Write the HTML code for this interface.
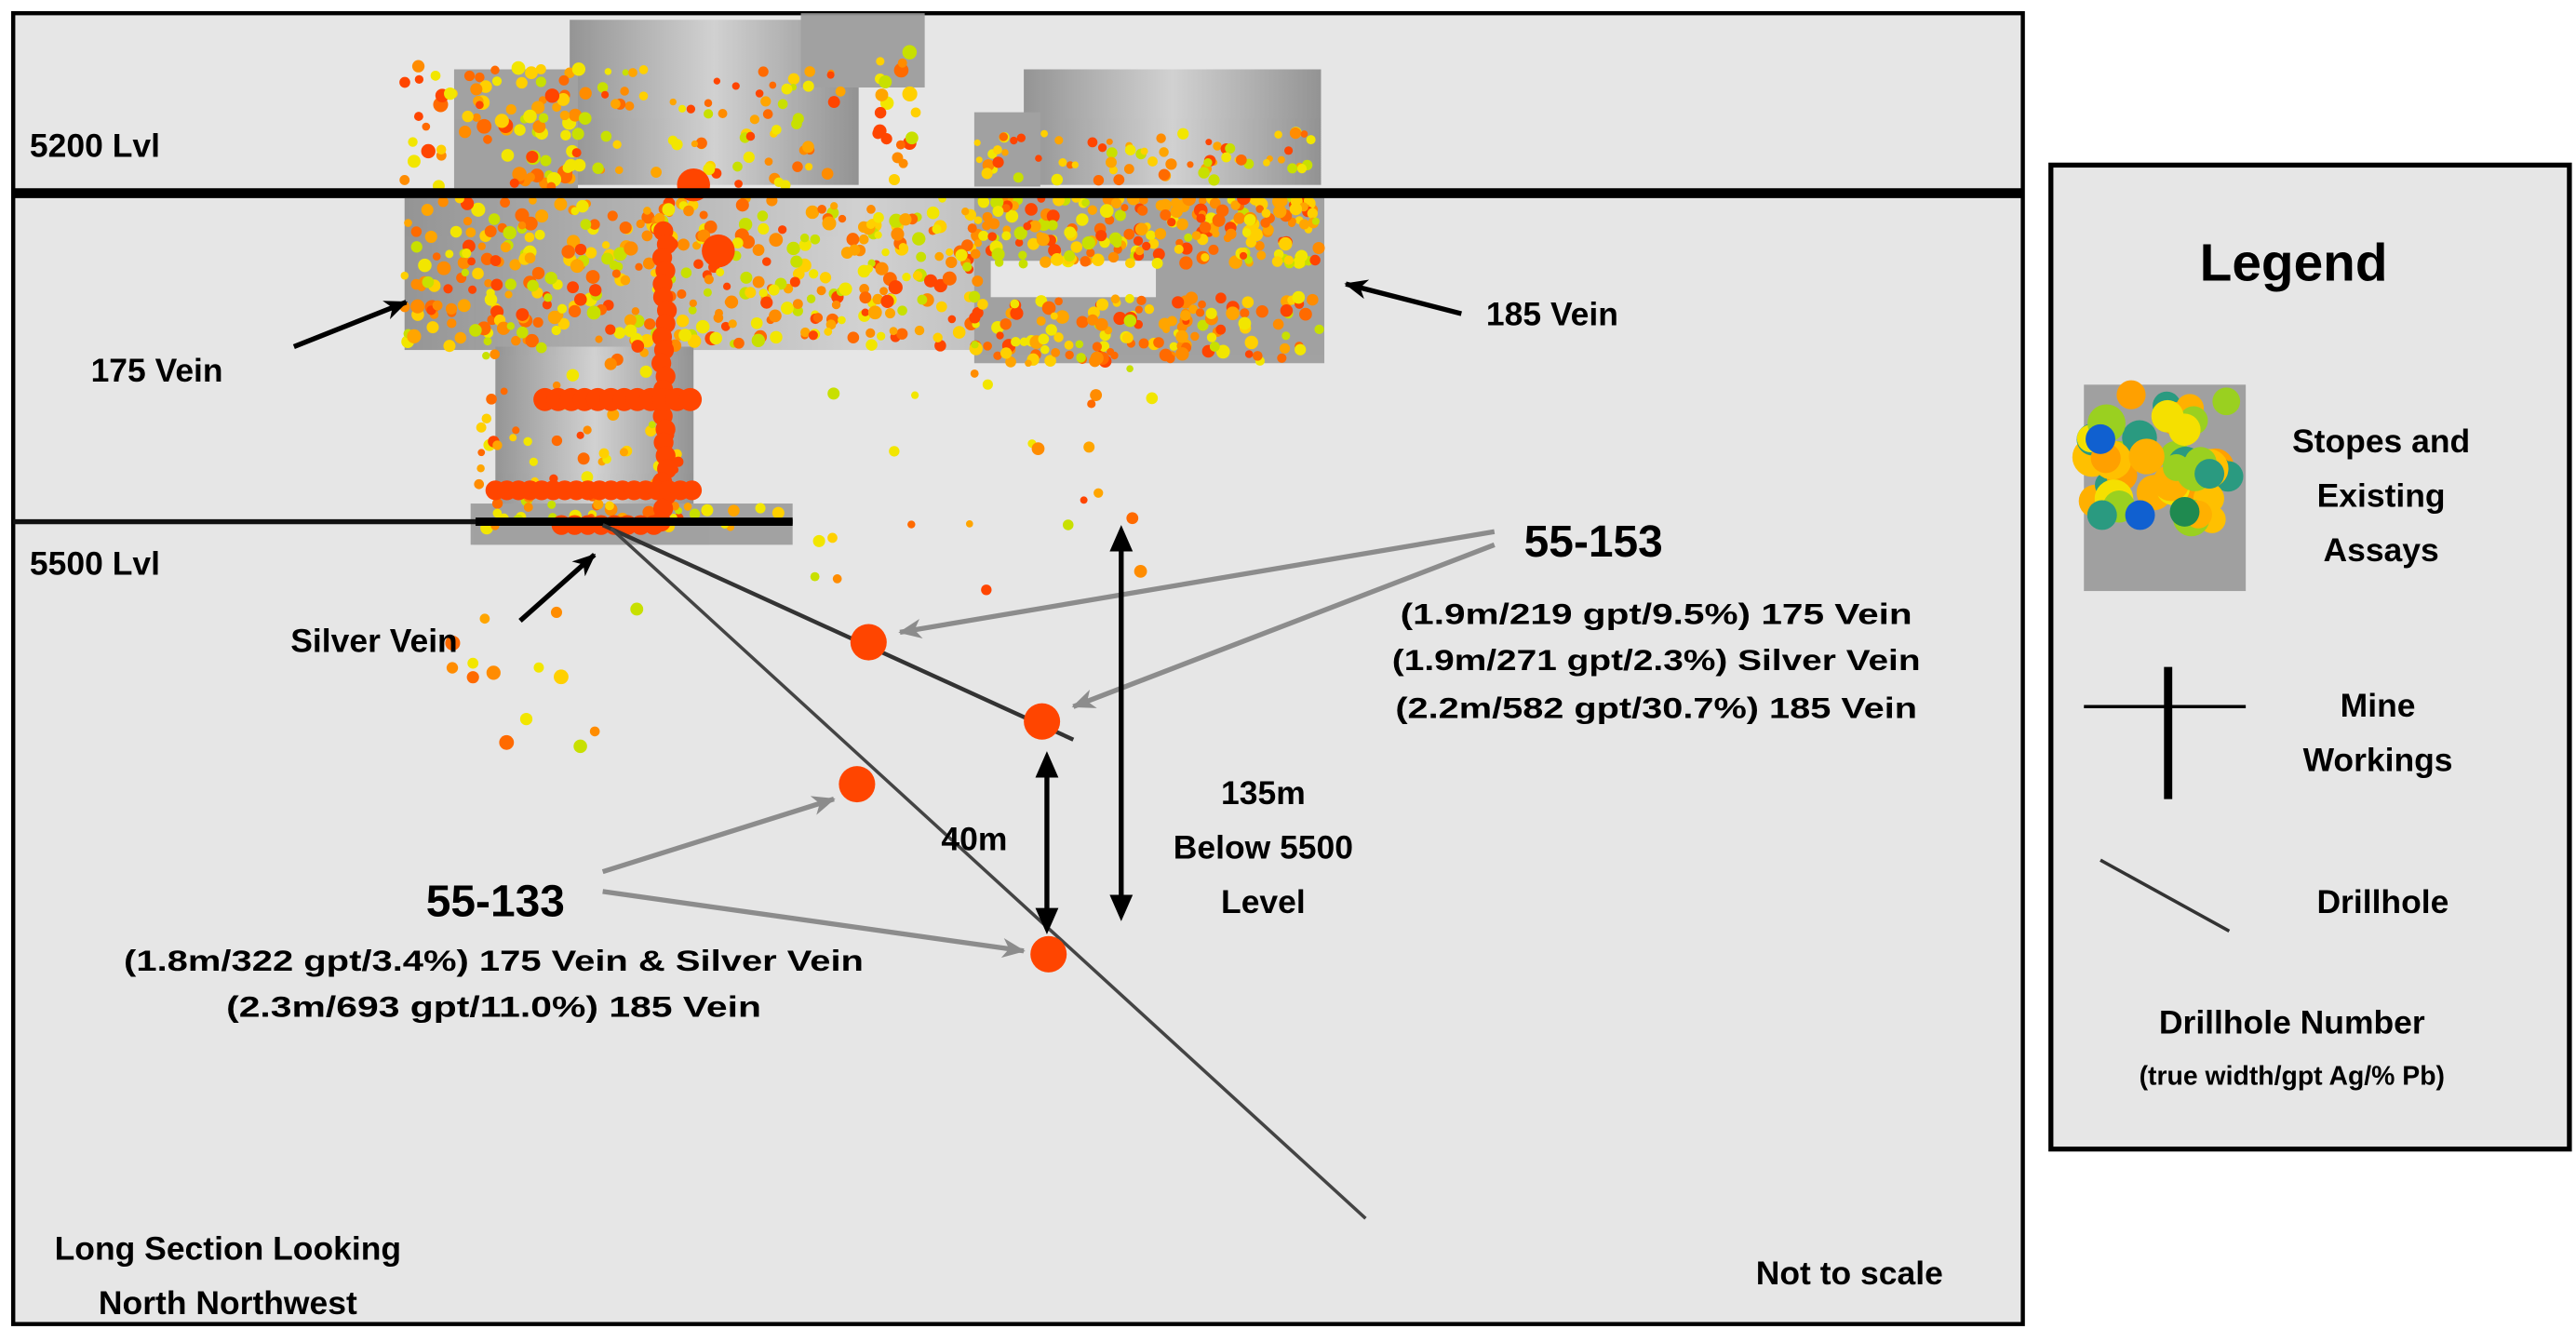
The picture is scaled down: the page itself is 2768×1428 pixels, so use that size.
<!DOCTYPE html>
<html><head><meta charset="utf-8"><style>
html,body{margin:0;padding:0;background:#fff;}
svg{display:block;}
text{font-family:"Liberation Sans",sans-serif;font-weight:bold;fill:#000;}
</style></head><body>
<svg id="s" width="2768" height="1428" viewBox="0 0 1560 805" preserveAspectRatio="none" xmlns="http://www.w3.org/2000/svg">
<defs>
<linearGradient id="g1" x1="0" x2="1"><stop offset="0" stop-color="#8c8c8c"/><stop offset="0.5" stop-color="#cfcfcf"/><stop offset="1" stop-color="#8a8a8a"/></linearGradient>
<marker id="ab" markerWidth="8" markerHeight="8" refX="7" refY="4" orient="auto" markerUnits="userSpaceOnUse"><path d="M0,0 L8,4 L0,8 L2,4z" fill="#000"/></marker>
<marker id="ag" markerWidth="14" markerHeight="12" refX="13" refY="6" orient="auto" markerUnits="userSpaceOnUse"><path d="M0,0 L14,6 L0,12 L4,6z" fill="#8c8c8c"/></marker>
<marker id="ak" markerWidth="14" markerHeight="12" refX="13" refY="6" orient="auto" markerUnits="userSpaceOnUse"><path d="M0,0 L14,6 L0,12 L4,6z" fill="#000"/></marker>
</defs>
<rect x="0" y="0" width="1560" height="805" fill="#fff"/>
<rect x="8" y="8" width="1217" height="794" fill="#e6e6e6" stroke="#000" stroke-width="2.5"/>
<!-- stopes gray -->
<g fill="#9a9a9a" opacity="0.9">
<rect x="345" y="12" width="175" height="100" fill="url(#g1)"/>
<rect x="485" y="8" width="75" height="45"/>
<rect x="275" y="42" width="75" height="72"/>
<rect x="620" y="42" width="180" height="70" fill="url(#g1)"/>
<rect x="590" y="68" width="40" height="45"/>
<rect x="245" y="120" width="555" height="92" fill="url(#g1)"/>
<rect x="590" y="120" width="212" height="100"/>
<rect x="300" y="210" width="120" height="100" fill="url(#g1)"/>
<rect x="285" y="305" width="195" height="25"/>
</g>
<rect x="600" y="158" width="100" height="22" fill="#e6e6e6"/>
<g id="dots"></g>
<!-- levels -->
<line x1="8" y1="117" x2="1225" y2="117" stroke="#000" stroke-width="6"/>
<line x1="8" y1="316" x2="480" y2="316" stroke="#111" stroke-width="3"/>
<line x1="288" y1="316" x2="480" y2="316" stroke="#000" stroke-width="5"/>
<!-- drillholes -->
<line x1="365" y1="318" x2="650" y2="448" stroke="#333" stroke-width="2.5"/>
<line x1="370" y1="320" x2="827" y2="738" stroke="#444" stroke-width="2"/>
<g fill="#ff4500">
<circle cx="526" cy="389" r="11"/><circle cx="631" cy="437" r="11"/>
<circle cx="519" cy="475" r="11"/><circle cx="635" cy="578" r="11"/>
</g>
<!-- gray leaders -->
<g stroke="#8c8c8c" stroke-width="3" fill="none">
<line x1="905" y1="322" x2="545" y2="383" marker-end="url(#ag)"/>
<line x1="905" y1="330" x2="650" y2="428" marker-end="url(#ag)"/>
<line x1="365" y1="528" x2="505" y2="484" marker-end="url(#ag)"/>
<line x1="365" y1="540" x2="620" y2="576" marker-end="url(#ag)"/>
</g>
<!-- black arrows -->
<g stroke="#000" stroke-width="3">
<line x1="679" y1="330" x2="679" y2="545"/>
<line x1="634" y1="468" x2="634" y2="553"/>
<line x1="178" y1="210" x2="246" y2="183" marker-end="url(#ak)"/>
<line x1="885" y1="190" x2="815" y2="172" marker-end="url(#ak)"/>
<line x1="315" y1="376" x2="360" y2="336" marker-end="url(#ak)"/>
</g>
<g fill="#000">
<path d="M679,318 L672,334 L686,334z"/><path d="M679,558 L672,542 L686,542z"/>
<path d="M634,455 L627,471 L641,471z"/><path d="M634,566 L627,550 L641,550z"/>
</g>
<!-- labels -->
<g font-size="20">
<text x="18" y="95">5200 Lvl</text>
<text x="18" y="348">5500 Lvl</text>
<text x="55" y="231">175 Vein</text>
<text x="900" y="197">185 Vein</text>
<text x="176" y="395">Silver Vein</text>
<text x="570" y="515">40m</text>
<text x="765" y="487" text-anchor="middle">135m</text>
<text x="765" y="520" text-anchor="middle">Below 5500</text>
<text x="765" y="553" text-anchor="middle">Level</text>
<text x="138" y="763" text-anchor="middle">Long Section Looking</text>
<text x="138" y="796" text-anchor="middle">North Northwest</text>
<text x="1120" y="778" text-anchor="middle">Not to scale</text>
</g>
<text x="965" y="337" font-size="27" text-anchor="middle">55-153</text>
<text x="300" y="555" font-size="27" text-anchor="middle">55-133</text>
<g font-size="18" text-anchor="middle">
<text x="1003" y="378" textLength="310" lengthAdjust="spacingAndGlyphs">(1.9m/219 gpt/9.5%) 175 Vein</text>
<text x="1003" y="406" textLength="320" lengthAdjust="spacingAndGlyphs">(1.9m/271 gpt/2.3%) Silver Vein</text>
<text x="1003" y="435" textLength="316" lengthAdjust="spacingAndGlyphs">(2.2m/582 gpt/30.7%) 185 Vein</text>
<text x="299" y="588" textLength="448" lengthAdjust="spacingAndGlyphs">(1.8m/322 gpt/3.4%) 175 Vein &amp; Silver Vein</text>
<text x="299" y="616" textLength="324" lengthAdjust="spacingAndGlyphs">(2.3m/693 gpt/11.0%) 185 Vein</text>
</g>
<!-- legend -->
<rect x="1242" y="100" width="314" height="596" fill="#e6e6e6" stroke="#000" stroke-width="3"/>
<text x="1389" y="170" font-size="32" text-anchor="middle">Legend</text>
<rect x="1262" y="233" width="98" height="125" fill="#a0a0a0"/>
<g id="lg"></g>
<line x1="1262" y1="428" x2="1360" y2="428" stroke="#000" stroke-width="2"/>
<line x1="1313" y1="404" x2="1313" y2="484" stroke="#000" stroke-width="5"/>
<line x1="1272" y1="521" x2="1350" y2="564" stroke="#333" stroke-width="2"/>
<g font-size="20" text-anchor="middle">
<text x="1442" y="274">Stopes and</text>
<text x="1442" y="307">Existing</text>
<text x="1442" y="340">Assays</text>
<text x="1440" y="434">Mine</text>
<text x="1440" y="467">Workings</text>
<text x="1443" y="553">Drillhole</text>
<text x="1388" y="626">Drillhole Number</text>
</g>
<text x="1388" y="657" font-size="16" text-anchor="middle">(true width/gpt Ag/% Pb)</text>
</svg>
<script>
(function(){
var seed=7;function r(){seed=(seed*16807)%2147483647;return seed/2147483647;}
var ns="http://www.w3.org/2000/svg",g=document.getElementById("dots");
var cols=["#ff4500","#ff8c00","#ffa500","#ffd000","#f2e600","#c8e000","#ff6a00"];
function c(x,y,rad,col){var e=document.createElementNS(ns,"circle");e.setAttribute("cx",x);e.setAttribute("cy",y);e.setAttribute("r",rad);e.setAttribute("fill",col);g.appendChild(e);}
function area(x0,y0,w,h,n,rad){for(var i=0;i<n;i++)c(x0+r()*w,y0+r()*h,rad*(0.7+r()*0.6),cols[Math.floor(r()*cols.length)]);}
area(245,40,110,75,90,3.5);
area(360,40,150,75,70,2.8);
area(530,30,25,80,20,3.5);
area(590,80,210,30,70,2.8);
area(245,120,350,90,400,3.3);
area(590,120,210,40,220,3.2);
area(590,180,210,40,140,3.2);
area(290,200,130,110,60,3);
area(290,305,190,15,40,3);
area(490,220,210,140,25,3);
area(270,360,120,100,14,3.5);
for(var y=140;y<320;y+=8)c(400+r()*4,y,6,"#ff4500");
for(var x=300;x<420;x+=7)c(x,297,6,"#ff4500");
for(var x=330;x<420;x+=8)c(x,242,7,"#ff4500");
for(var x=340;x<400;x+=8)c(x,318,6,"#ff4500");
c(420,112,10,"#ff4500");c(435,152,10,"#ff4500");
var L=document.getElementById("lg");
var lc=["#ffb000","#f5e000","#ffa000","#9ad020","#ffc000","#2a9a80"];
for(var i=0;i<40;i++){var e=document.createElementNS(ns,"circle");e.setAttribute("cx",1266+r()*85);e.setAttribute("cy",238+r()*80);e.setAttribute("r",8+r()*4);e.setAttribute("fill",lc[Math.floor(r()*lc.length)]);L.appendChild(e);}
[[1272,266,"#1060d0"],[1296,312,"#1060d0"],[1273,312,"#2a9a80"],[1338,287,"#2a9a80"],[1323,310,"#1f8a50"]].forEach(function(a){var e=document.createElementNS(ns,"circle");e.setAttribute("cx",a[0]);e.setAttribute("cy",a[1]);e.setAttribute("r",9);e.setAttribute("fill",a[2]);L.appendChild(e);});
})();
</script>
</body></html>
